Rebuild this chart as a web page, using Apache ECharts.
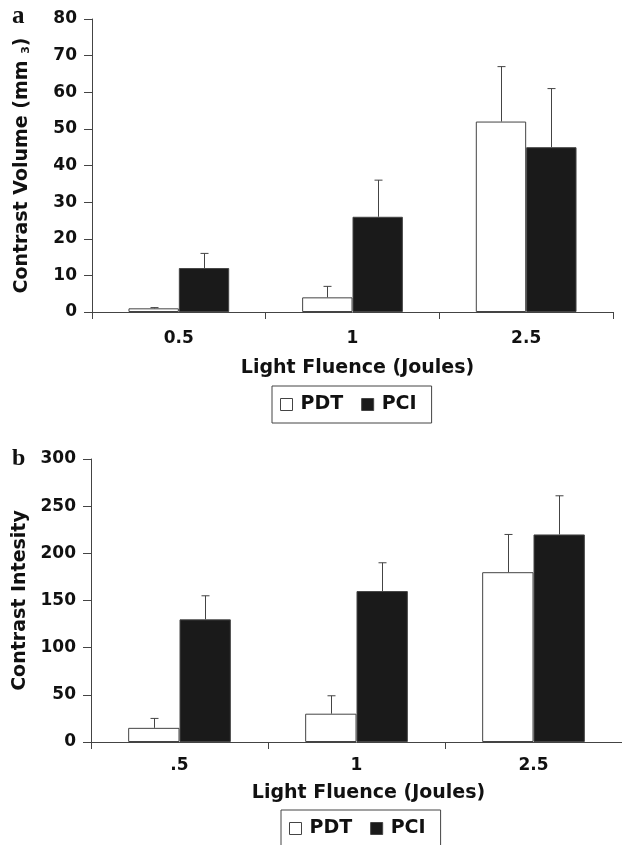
<!DOCTYPE html>
<html>
<head>
<meta charset="utf-8">
<script src="https://cdn.jsdelivr.net/npm/echarts@6/dist/echarts.min.js"></script>
<style>
  html, body { margin: 0; padding: 0; background: #fff; }
  #chart { width: 622px; height: 845px; }
</style>
</head>
<body>
<div id="chart"></div>
<script>
// panel a - contrast volume
const fluenceA = ['0.5', '1', '2.5'];
const volumePDT = [1, 4, 52];
const volumePDTSd = [0.2, 3, 15];
const volumePCI = [12, 26, 45];
const volumePCISd = [4, 10, 16];

// panel b - contrast intensity
const fluenceB = ['.5', '1', '2.5'];
const intensityPDT = [15, 30, 180];
const intensityPDTSd = [10, 19, 40];
const intensityPCI = [130, 160, 220];
const intensityPCISd = [25, 30, 41];

const FONT = '"DejaVu Sans", Verdana, sans-serif';
const INK = '#111';
const LINE = '#444';
const BAR_W = 0.29;

const chart = echarts.init(document.getElementById('chart'), null, { renderer: 'canvas' });

function errData(vals, sds) {
  return vals.map((v, i) => [i, v, v + sds[i]]);
}

// side: -1 for left bar (PDT), +1 for right bar (PCI)
function errRender(side) {
  return function (params, api) {
    const band = api.size([1, 0])[0];
    const base = api.coord([api.value(0), api.value(1)]);
    const top = api.coord([api.value(0), api.value(2)]);
    const x = Math.round(base[0] + side * band * BAR_W / 2) + 0.5;
    return {
      type: 'group',
      children: [
        { type: 'line', shape: { x1: x, y1: base[1], x2: x, y2: top[1] }, style: { stroke: LINE, lineWidth: 1 } },
        { type: 'line', shape: { x1: x - 4, y1: top[1], x2: x + 4, y2: top[1] }, style: { stroke: LINE, lineWidth: 1 } }
      ]
    };
  };
}

const labelStyle = { color: INK, fontFamily: FONT, fontWeight: 'bold', fontSize: 17 };
const nameStyle = { color: INK, fontFamily: FONT, fontWeight: 'bold', fontSize: 19 };

function xAxis(gridIndex, cats, gap, margin, pad) {
  return {
    type: 'category', gridIndex: gridIndex, data: cats,
    name: 'Light Fluence (Joules)', nameLocation: 'middle', nameGap: gap,
    nameTextStyle: Object.assign({ padding: pad }, nameStyle),
    axisLine: { lineStyle: { color: LINE, width: 1 } },
    axisTick: { show: true, length: 7, alignWithLabel: false, lineStyle: { color: LINE } },
    axisLabel: Object.assign({ margin: margin }, labelStyle),
    splitLine: { show: false }
  };
}

function yAxis(gridIndex, max, interval, name, gap) {
  return {
    type: 'value', gridIndex: gridIndex, min: 0, max: max, interval: interval,
    name: name, nameLocation: 'middle', nameGap: gap,
    nameTextStyle: Object.assign({
      rich: {
        n: nameStyle,
        s: { color: INK, fontFamily: FONT, fontWeight: 'bold', fontSize: 11, padding: [8, 0, 0, 0] }
      }
    }, nameStyle),
    axisLine: { show: true, lineStyle: { color: LINE, width: 1 } },
    axisTick: { show: true, length: 8, lineStyle: { color: LINE } },
    axisLabel: Object.assign({ margin: 15 }, labelStyle),
    splitLine: { show: false }
  };
}

function barSeries(name, axisIdx, vals, white) {
  return {
    name: name, type: 'bar', xAxisIndex: axisIdx, yAxisIndex: axisIdx,
    data: vals, barWidth: (BAR_W * 100) + '%', barGap: '0%',
    itemStyle: { color: white ? '#fff' : '#1a1a1a', borderColor: LINE, borderWidth: 1 },
    emphasis: { disabled: true }, animation: false
  };
}

function errSeries(name, axisIdx, vals, sds, side) {
  return {
    name: name, type: 'custom', xAxisIndex: axisIdx, yAxisIndex: axisIdx,
    data: errData(vals, sds), renderItem: errRender(side),
    encode: { x: 0, y: [1, 2] }, z: 5, silent: true, animation: false
  };
}

function legend(left, top) {
  return {
    left: left, top: top, orient: 'horizontal',
    data: ['PDT', 'PCI'], icon: 'rect', itemWidth: 12, itemHeight: 12,
    itemGap: 18, itemStyle: { borderColor: LINE, borderWidth: 1 },
    textStyle: { color: INK, fontFamily: FONT, fontWeight: 'bold', fontSize: 19, padding: [0, 0, 0, 3] },
    borderColor: LINE, borderWidth: 1, padding: [9, 15, 9, 8],
    selectedMode: false
  };
}

chart.setOption({
  animation: false,
  backgroundColor: '#fff',
  grid: [
    { left: 92, top: 19, right: 9, height: 293 },
    { left: 91, top: 459, right: -4, height: 283 }
  ],
  xAxis: [
    xAxis(0, fluenceA, 47, 18, [0, 0, 0, 10]),
    xAxis(1, fluenceB, 42, 15, [0, 0, 0, 24])
  ],
  yAxis: [
    yAxis(0, 80, 10, '{n|Contrast Volume (mm }{s|3}{n|)}', 60),
    yAxis(1, 300, 50, 'Contrast Intesity', 58)
  ],
  legend: [legend(272, 386), legend(281, 810)],
  graphic: [
    { type: 'text', left: 12, top: 4, style: { text: 'a', fill: INK, font: 'bold 25px "Liberation Serif", "Times New Roman", serif' } },
    { type: 'text', left: 12, top: 447, style: { text: 'b', fill: INK, font: 'bold 24px "Liberation Serif", "Times New Roman", serif' } }
  ],
  series: [
    barSeries('PDT', 0, volumePDT, true),
    barSeries('PCI', 0, volumePCI, false),
    errSeries('PDT', 0, volumePDT, volumePDTSd, -1),
    errSeries('PCI', 0, volumePCI, volumePCISd, 1),
    barSeries('PDT', 1, intensityPDT, true),
    barSeries('PCI', 1, intensityPCI, false),
    errSeries('PDT', 1, intensityPDT, intensityPDTSd, -1),
    errSeries('PCI', 1, intensityPCI, intensityPCISd, 1)
  ]
});
</script>
</body>
</html>
